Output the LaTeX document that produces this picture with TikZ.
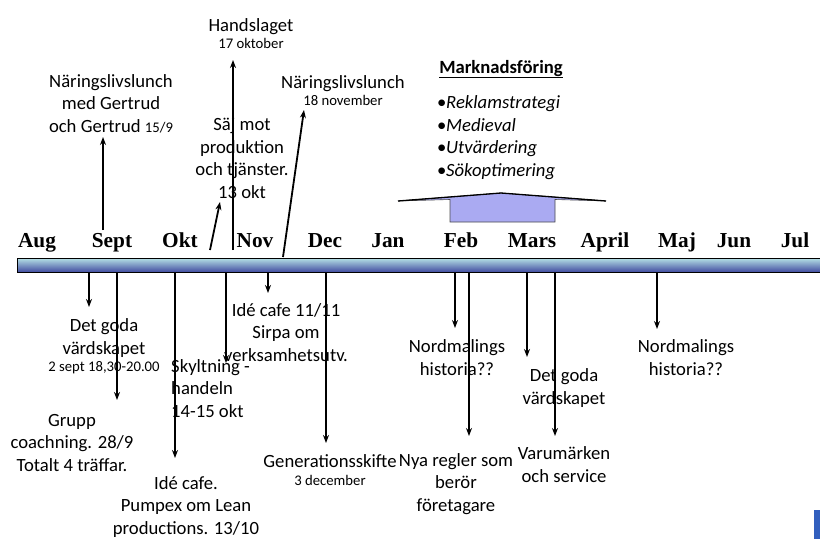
\documentclass[tikz,border=0pt]{standalone}
\usepackage{fontspec}
\setmainfont{Carlito}
\newfontfamily\monthfont{Liberation Serif}
\usetikzlibrary{arrows.meta}
\definecolor{bartop}{RGB}{182,226,230}
\definecolor{barmid}{RGB}{150,192,214}
\definecolor{barbot}{RGB}{66,76,160}
\definecolor{boxfill}{RGB}{170,170,242}
\definecolor{artblue}{RGB}{50,95,190}
\newcommand{\sm}{\fontsize{14.7}{17}\selectfont}
\begin{document}
\begin{tikzpicture}[x=1pt,y=-1pt,
  lbl/.style={font=\fontsize{18.67}{22.4}\selectfont, align=center, inner sep=0pt, anchor=base},
  lbll/.style={font=\fontsize{18.67}{22.4}\selectfont, align=left, inner sep=0pt, anchor=base west},
  mon/.style={font=\monthfont\bfseries\fontsize{21.3}{24}\selectfont, inner sep=0pt, anchor=base},
  arr/.style={line width=1.8pt, -{Stealth[length=8pt,width=6pt]}},
]
\useasboundingbox (0,0) rectangle (820,539);

% timeline bar
\shade[top color=bartop, middle color=barmid, bottom color=barbot, draw=black, line width=0.8pt]
  (17,258) rectangle (821,272);

% months
\node[mon] (aug) at (37,247) {Aug};
\node[mon] (sep) at (112,247) {Sept};
\node[mon] (okt) at (180,247) {Okt};
\node[mon] (nov) at (255,247) {Nov};
\node[mon] (dec) at (325,247) {Dec};
\node[mon] (jan) at (388,247) {Jan};
\node[mon] (feb) at (461,247) {Feb};
\node[mon] (mar) at (532,247) {Mars};
\node[mon] (apr) at (605,247) {April};
\node[mon] (maj) at (677,247) {Maj};
\node[mon] (jun) at (734,247) {Jun};
\node[mon] (jul) at (795,247) {Jul};

% upper labels (anchor = baseline of last line)
\node[lbl] (hand) at (251,48) {Handslaget\\[-5.4pt]{\sm 17 oktober}};
\node[lbl] (nl1) at (111,132) {Näringslivslunch\\med Gertrud\\och Gertrud {\sm 15/9}};
\node[lbl] (salj) at (242,198) {Säj mot\\produktion\\och tjänster.\\13 okt};
\node[lbl] (nl2) at (343,105) {Näringslivslunch\\[-5.4pt]{\sm 18 november}};
\node[lbl, font=\fontsize{18.67}{22.4}\selectfont\bfseries] (mf) at (501,73) {\underline{Marknadsföring}};
\node[lbll] (bul) at (437,176) {\makebox[9pt][l]{•}\textit{Reklamstrategi}\\\makebox[9pt][l]{•}\textit{Medieval}\\\makebox[9pt][l]{•}\textit{Utvärdering}\\\makebox[9pt][l]{•}\textit{Sökoptimering}};

% block arrow
\filldraw[fill=boxfill, draw=black!70, line width=0.6pt]
  (450,222) -- (450,199.5) -- (398,201) -- (501,193) -- (606,201) -- (555,199.5) -- (555,222) -- cycle;
\draw[line width=1.3pt] (398,201) -- (501,193) -- (606,201);

% lower labels
\node[lbl] (dg1) at (104,371) {Det goda\\värdskapet\\[-5.4pt]{\sm 2 sept 18,30-20.00}};
\node[lbll] (sky) at (171,417) {Skyltning -\\handeln\\14-15 okt};
\node[lbl] (grp) at (72,471) {Grupp\\coachning. 28/9\\Totalt 4 träffar.};
\node[lbl] (ic1) at (186,534) {Idé cafe.\\Pumpex om Lean\\productions. 13/10};
\node[lbl] (ic2) at (286,361) {Idé cafe 11/11\\Sirpa om\\verksamhetsutv.};
\node[lbl] (gen) at (330,485) {Generationsskifte\\[-4.4pt]{\sm 3 december}};
\node[lbl] (nya) at (456,511) {Nya regler som\\berör\\företagare};
\node[lbl] (nm1) at (457,375) {Nordmalings\\historia??};
\node[lbl] (dg2) at (564,404) {Det goda\\värdskapet};
\node[lbl] (var) at (564,482) {Varumärken\\och service};
\node[lbl] (nm2) at (686,375) {Nordmalings\\historia??};

% arrow end coordinates
\coordinate (u1a) at (103,230); \coordinate (u1b) at (103,137);
\coordinate (u2a) at (210,250); \coordinate (u2b) at (220,202);
\coordinate (u3a) at (233,250); \coordinate (u3b) at (233,60);
\coordinate (u4a) at (283,257); \coordinate (u4b) at (304,110);

\coordinate (d1a) at (89,272);  \coordinate (d1b) at (89,307);
\coordinate (d2a) at (117,272); \coordinate (d2b) at (117,400);
\coordinate (d3a) at (175,272); \coordinate (d3b) at (175,458);
\coordinate (d4a) at (226,272); \coordinate (d4b) at (226,363);
\coordinate (d5a) at (268,272); \coordinate (d5b) at (268,293);
\coordinate (d6a) at (326,272); \coordinate (d6b) at (326,443);
\coordinate (d7a) at (455,272); \coordinate (d7b) at (455,328);
\coordinate (d8a) at (469,272); \coordinate (d8b) at (469,436);
\coordinate (d9a) at (527,272); \coordinate (d9b) at (527,357);
\coordinate (d10a) at (555,272); \coordinate (d10b) at (555,436);
\coordinate (d11a) at (657,272); \coordinate (d11b) at (657,329);

\foreach \n in {1,...,4} \draw[arr] (u\n a) -- (u\n b);
\foreach \n in {1,...,11} \draw[arr] (d\n a) -- (d\n b);

% corner artifact
\fill[artblue] (814,510) rectangle (820,539);
\end{tikzpicture}
\end{document}
